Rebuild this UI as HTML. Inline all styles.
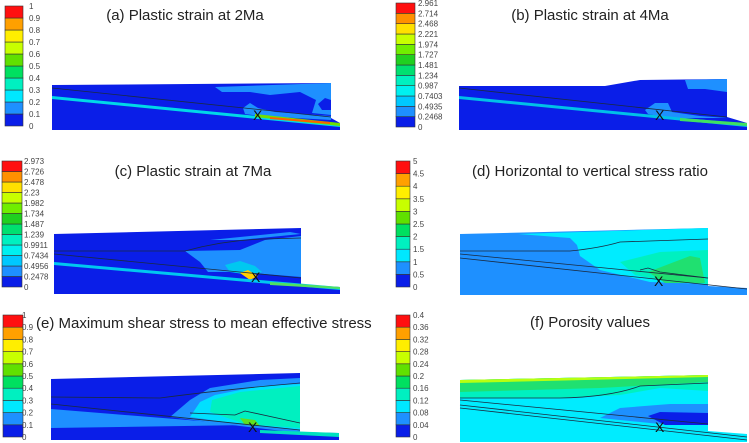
<!DOCTYPE html>
<html><head><meta charset="utf-8">
<style>
html,body{margin:0;padding:0;background:#fff;}
svg{display:block;font-family:"Liberation Sans",Arial,sans-serif;}
.t{font-size:15px;fill:#222;}
.lb{font-size:8px;fill:#444;}
.ln{fill:none;stroke:#1a2a40;stroke-width:0.8;}
</style></head>
<body>
<svg id="fig" width="749" height="443" viewBox="0 0 749 443" xmlns="http://www.w3.org/2000/svg">
<!-- Panel a -->
<g>
<text class="t" x="185" y="20" text-anchor="middle">(a) Plastic strain at 2Ma</text>
<polygon points="52,85 331,83 331,118 340,123 340,130 52,130" fill="#0a1ee8"/>
<polygon points="215,87 331,83 331,115 312,113 316,100 300,92 270,95 250,92 222,92" fill="#1e90ff"/>
<polygon points="318,104 325,98 331,100 331,110 322,110" fill="#0a1ee8"/>
<polygon points="243,108 250,103 258,108 275,112 331,116 331,120 260,116 245,114" fill="#1e90ff"/>
<polygon points="52,96 340,124 340,127 52,99" fill="#00d8e8"/>
<polygon points="255,114 340,123 340,126 255,117" fill="#70e000"/>
<polygon points="270,117 330,122 330,124 270,119" fill="#ff6000"/>
<line class="ln" x1="52" y1="88" x2="331" y2="117"/>
<text x="253" y="120" font-size="14" fill="#111">X</text>
</g>
<!-- Panel b -->
<g>
<text class="t" x="590" y="20" text-anchor="middle">(b) Plastic strain at 4Ma</text>
<polygon points="459,86 605,86 640,80 727,79 727,117 747,123 747,130 459,130" fill="#0a1ee8"/>
<polygon points="685,80 727,79 727,92 705,89 688,89" fill="#1e90ff"/>
<polygon points="645,110 655,103 668,103 672,112 700,116 727,118 670,118 648,114" fill="#1e90ff"/>
<polygon points="459,96 747,124 747,127 459,99" fill="#00c0e8"/>
<polygon points="680,118 747,123 747,126 680,121" fill="#40e060"/>
<line class="ln" x1="459" y1="88" x2="727" y2="117"/>
<text x="655" y="120" font-size="14" fill="#111">X</text>
</g>
<!-- Panel c -->
<g>
<text class="t" x="193" y="176" text-anchor="middle">(c) Plastic strain at 7Ma</text>
<polygon points="54,234 301,228 301,285 340,287 340,294 54,294" fill="#0a1ee8"/>
<polygon points="185,251 240,250 265,240 301,236 301,277 240,272 208,272 200,262" fill="#1e90ff"/>
<polygon points="210,240 250,236 290,232 301,234 240,240" fill="#1e90ff"/>
<polygon points="225,265 240,261 255,266 262,272 250,275 230,272" fill="#00c8f0"/>
<polygon points="240,273 248,270 258,276 250,280" fill="#ffd000"/>
<polygon points="54,262 340,287 340,290 54,265" fill="#00c8f0"/>
<polygon points="270,282 340,287 340,289 270,285" fill="#50e060"/>
<path class="ln" d="M54,251 L185,251 Q225,240 265,239 L301,238"/>
<line class="ln" x1="54" y1="254" x2="301" y2="278"/>
<text x="251" y="282" font-size="14" fill="#111">X</text>
</g>
<!-- Panel d -->
<g>
<text class="t" x="590" y="176" text-anchor="middle">(d) Horizontal to vertical stress ratio</text>
<polygon points="460,234 708,228 708,286 747,288 747,295 460,295" fill="#1e90ff"/>
<polygon points="518,234 708,228 708,284 650,282 600,270 580,256 577,245 570,238" fill="#00ecff"/>
<polygon points="620,262 660,252 708,250 708,284 670,282 635,275" fill="#00f0c0"/>
<polygon points="648,272 690,256 700,258 705,283 665,283" fill="#20e070"/>
<line class="ln" x1="460" y1="254" x2="708" y2="278"/>
<line class="ln" x1="460" y1="258" x2="747" y2="289"/>
<path class="ln" d="M460,251 L570,251 Q600,248 620,242 L708,239"/>
<path class="ln" d="M640,270 L648,268 L660,272 L708,278"/>
<text x="654" y="286" font-size="14" fill="#111">X</text>
</g>
<!-- Panel e -->
<g>
<text class="t" x="36" y="328">(e) Maximum shear stress to mean effective stress</text>
<polygon points="51,379 300,373 300,432 339,433 339,440 51,440" fill="#0a1ee8"/>
<polygon points="51,409 250,425 51,428" fill="#1e90ff"/>
<polygon points="170,417 190,400 210,388 260,380 300,378 300,433 240,426" fill="#1e90ff"/>
<polygon points="190,417 200,402 215,395 260,386 300,384 300,430 240,424" fill="#00e0ff"/>
<polygon points="210,412 212,400 240,392 300,386 300,428 245,424" fill="#00f0c0"/>
<polygon points="240,418 255,420 260,426 245,425" fill="#60e020"/>
<polygon points="260,430 339,433 339,437 260,433" fill="#00e0c0"/>
<path class="ln" d="M51,397 L160,398 Q220,390 300,383"/>
<line class="ln" x1="51" y1="404" x2="300" y2="430"/>
<path class="ln" d="M190,413 L235,415 L245,411 L300,423"/>
<text x="248" y="432" font-size="14" fill="#111">X</text>
</g>
<!-- Panel f -->
<g>
<text class="t" x="590" y="327" text-anchor="middle">(f) Porosity values</text>
<polygon points="460,380 708,375 708,431 747,434 747,442 460,442" fill="#00ecff"/>
<polygon points="460,380 708,375 708,391 660,388 620,395 560,398 460,398" fill="#00f0c0"/>
<polygon points="460,380 708,375 708,382 600,388 460,392" fill="#20e070"/>
<polygon points="460,380 708,375 708,377 460,383" fill="#b8ff10"/>
<polygon points="600,418 620,408 670,404 708,404 708,425 660,424" fill="#1e90ff"/>
<polygon points="648,416 660,412 708,413 708,425 665,425" fill="#0a1ee8"/>
<path class="ln" d="M460,398 L560,398 Q610,397 640,386 L708,383"/>
<line class="ln" x1="460" y1="400" x2="708" y2="424"/>
<line class="ln" x1="460" y1="405" x2="747" y2="437"/>
<line class="ln" x1="460" y1="408" x2="747" y2="440"/>
<text x="655" y="432" font-size="14" fill="#111">X</text>
</g>
</svg>
<script>
const colors10 = ["#0a1ee8","#1e90ff","#00e8ff","#00f0c0","#00e060","#60e000","#c8ff00","#ffee00","#ffa000","#ff1010"];
const colors12 = ["#0a1ee8","#1e90ff","#00c8ff","#00f0f0","#00f0c0","#00e070","#20d020","#70ee00","#c8ff00","#ffe000","#ff9000","#ff1010"];
const ticksA = ["0","0.1","0.2","0.3","0.4","0.5","0.6","0.7","0.8","0.9","1"];
const ticksB = ["0","0.2468","0.4935","0.7403","0.987","1.234","1.481","1.727","1.974","2.221","2.468","2.714","2.961"];
const ticksC = ["0","0.2478","0.4956","0.7434","0.9911","1.239","1.487","1.734","1.982","2.23","2.478","2.726","2.973"];
const ticksD = ["0","0.5","1","1.5","2","2.5","3","3.5","4","4.5","5"];
const ticksE = ["0","0.1","0.2","0.3","0.4","0.5","0.6","0.7","0.8","0.9","1"];
const ticksF = ["0","0.04","0.08","0.12","0.16","0.2","0.24","0.28","0.32","0.36","0.4"];
const NS = "http://www.w3.org/2000/svg";
const svg = document.getElementById("fig");
function legend(name, ticks, x, w, top, bot, lx) {
  const n = ticks.length - 1;
  const cols = n === 12 ? colors12 : colors10;
  const g = document.createElementNS(NS, "g");
  
  
  const h = (bot - top) / n;
  for (let i = 0; i < n; i++) {
    const r = document.createElementNS(NS, "rect");
    
    
    r.setAttribute("x", x); r.setAttribute("y", bot - (i + 1) * h);
    r.setAttribute("width", w); r.setAttribute("height", h);
    r.setAttribute("fill", cols[i]); r.setAttribute("stroke", "#333"); r.setAttribute("stroke-width", "0.6");
    g.appendChild(r);
  }
  for (let i = 0; i <= n; i++) {
    const t = document.createElementNS(NS, "text");
    
    
    t.setAttribute("class", "lb");
    t.setAttribute("x", lx); t.setAttribute("y", bot - i * h + 3);
    t.textContent = ticks[i];
    g.appendChild(t);
  }
  svg.appendChild(g);
}
legend("legend-a", ticksA, 5, 18, 6, 126, 29);
legend("legend-b", ticksB, 396, 19, 3, 127, 418);
legend("legend-c", ticksC, 2, 20, 161, 287, 24);
legend("legend-d", ticksD, 396, 14, 161, 287, 413);
legend("legend-e", ticksE, 3, 20, 315, 437, 22);
legend("legend-f", ticksF, 396, 14, 315, 437, 413);
</script>
</body></html>
